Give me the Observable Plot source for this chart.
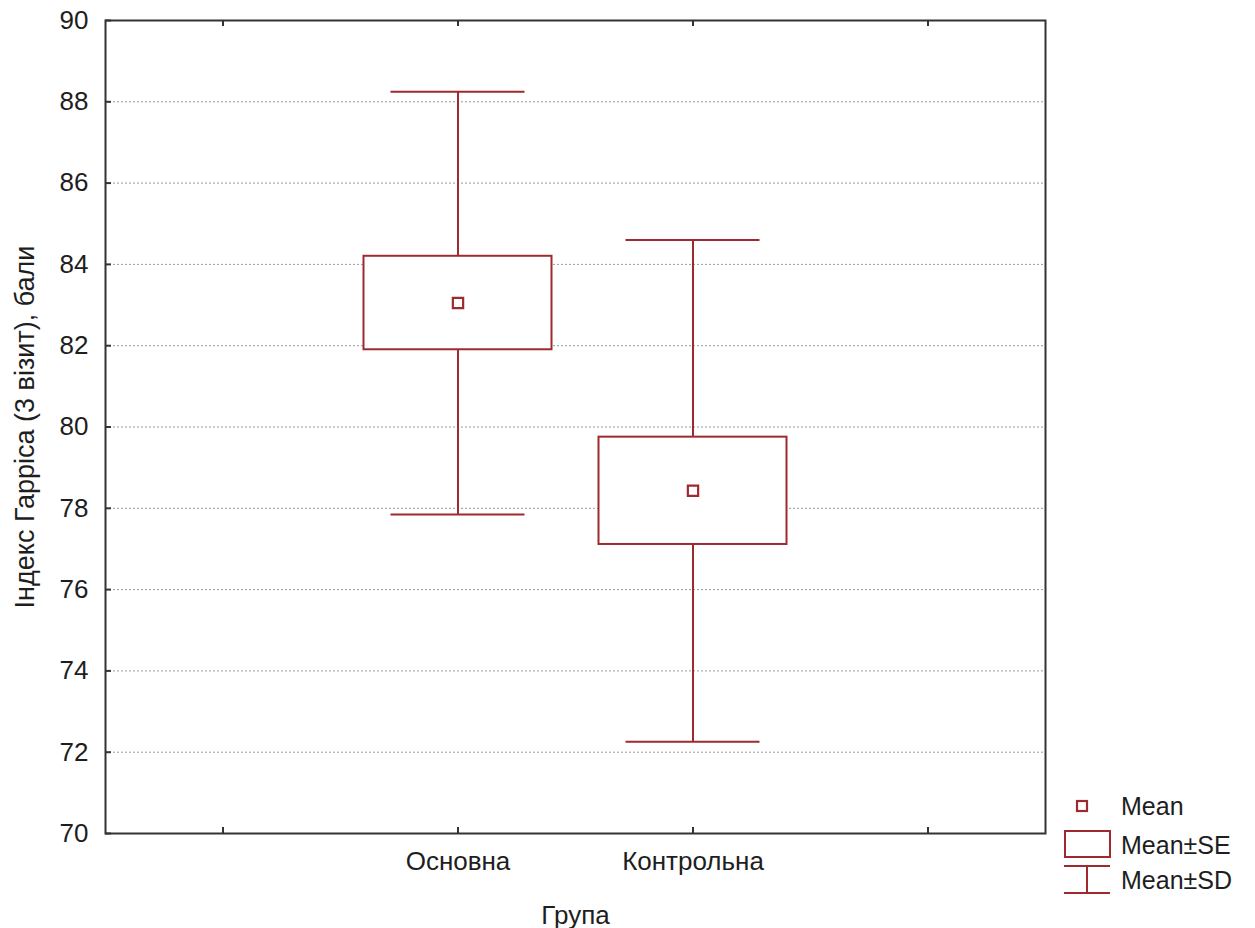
<!DOCTYPE html>
<html>
<head>
<meta charset="utf-8">
<script src="https://cdn.jsdelivr.net/npm/d3@7"></script>
<script src="https://cdn.jsdelivr.net/npm/@observablehq/plot@0.6"></script>
<style>
  body { margin: 0; background: #fff; }
  #wrap { position: relative; width: 1255px; height: 928px; font-family: "Liberation Sans", Arial, sans-serif; }
  #legend { position: absolute; left: 1060px; top: 790px; width: 195px; height: 110px; }
</style>
</head>
<body>
<div id="wrap">
  <div id="chart"></div>
  <div id="legend"></div>
</div>
<script>
// Data
const groups = ["Основна", "Контрольна"];
const means = [83.05, 78.43];
const se = [1.15, 1.32];
const sd = [5.2, 6.17];
const slots = ["", "Основна", "Контрольна", " "];
const yTicks = [70, 72, 74, 76, 78, 80, 82, 84, 86, 88, 90];
const gridTicks = [72, 74, 76, 78, 80, 82, 84, 86, 88];
const xLabel = "Група";
const yLabel = "Індекс Гарріса (3 візит), бали";
const legendLabels = ["Mean", "Mean±SE", "Mean±SD"];

const red = "#9e2a2f";
const ink = "#1e1e1e";
const data = groups.map((g, i) => ({g, mean: means[i], se: se[i], sd: sd[i]}));

const W = 1255, H = 928;
const mL = 105, mT = 20, mR = 210, mB = 95;
const innerH = H - mT - mB, innerW = W - mL - mR;
const tk = 6;

const chart = Plot.plot({
  width: W, height: H,
  marginLeft: mL, marginTop: mT, marginRight: mR, marginBottom: mB,
  style: {fontFamily: "'Liberation Sans', Arial, sans-serif", fontSize: "26px", color: ink, background: "#fff"},
  x: {type: "band", domain: slots, padding: 0},
  y: {domain: [70, 90]},
  marks: [
    Plot.gridY(gridTicks, {stroke: "#999", strokeOpacity: 1, strokeDasharray: "2,2", strokeWidth: 1}),
    // whisker stems
    Plot.ruleX(data, {x: "g", y1: d => d.mean - d.sd, y2: d => d.mean + d.sd, stroke: red, strokeWidth: 2}),
    // caps
    Plot.tickY(data, {x: "g", y: d => d.mean + d.sd, stroke: red, strokeWidth: 2, insetLeft: 50.5, insetRight: 50.5}),
    Plot.tickY(data, {x: "g", y: d => d.mean - d.sd, stroke: red, strokeWidth: 2, insetLeft: 50.5, insetRight: 50.5}),
    // SE boxes
    Plot.barY(data, {x: "g", y1: d => d.mean - d.se, y2: d => d.mean + d.se, fill: "white", stroke: red, strokeWidth: 2, insetLeft: 23.5, insetRight: 23.5}),
    // means
    Plot.dot(data, {x: "g", y: "mean", symbol: "square", r: 5.8, fill: "white", stroke: red, strokeWidth: 2.2}),
    // inward ticks
    Plot.tickY(yTicks, {y: d => d, stroke: "#333", strokeWidth: 2, insetRight: innerW - tk}),
    Plot.tickX(slots, {x: d => d, stroke: "#333", strokeWidth: 2, insetTop: innerH - tk}),
    Plot.tickX(slots, {x: d => d, stroke: "#333", strokeWidth: 2, insetBottom: innerH - tk}),
    Plot.frame({stroke: "#333", strokeWidth: 2}),
    Plot.axisY(yTicks, {tickSize: 0, tickPadding: 17, label: null, fill: ink}),
    Plot.axisX({tickSize: 0, tickPadding: 18, label: null, fill: ink, tickFormat: d => d.trim()}),
    Plot.text([xLabel], {frameAnchor: "bottom", dy: 90, fill: ink, fontSize: 26}),
    Plot.text([yLabel], {frameAnchor: "left", textAnchor: "middle", dx: -80, rotate: -90, fill: ink, fontSize: 27})
  ]
});
document.getElementById("chart").appendChild(chart);

// Legend (HTML/SVG beside the plot)
const lg = d3.select("#legend").append("svg").attr("width", 195).attr("height", 110);
lg.append("rect").attr("x", 17).attr("y", 11).attr("width", 10).attr("height", 10).attr("fill", "white").attr("stroke", red).attr("stroke-width", 2.2);
lg.append("rect").attr("x", 5).attr("y", 41).attr("width", 45).attr("height", 26).attr("fill", "white").attr("stroke", red).attr("stroke-width", 2);
lg.append("line").attr("x1", 4).attr("x2", 50).attr("y1", 76).attr("y2", 76).attr("stroke", red).attr("stroke-width", 2);
lg.append("line").attr("x1", 27).attr("x2", 27).attr("y1", 76).attr("y2", 103).attr("stroke", red).attr("stroke-width", 2);
lg.append("line").attr("x1", 4).attr("x2", 50).attr("y1", 103).attr("y2", 103).attr("stroke", red).attr("stroke-width", 2);
const ly = [16, 55, 90];
lg.selectAll("text").data(legendLabels).join("text")
  .attr("x", 61).attr("y", (d, i) => ly[i]).attr("dy", "0.35em")
  .attr("font-family", "'Liberation Sans', Arial, sans-serif").attr("font-size", 25).attr("fill", ink)
  .text(d => d);
</script>
</body>
</html>
